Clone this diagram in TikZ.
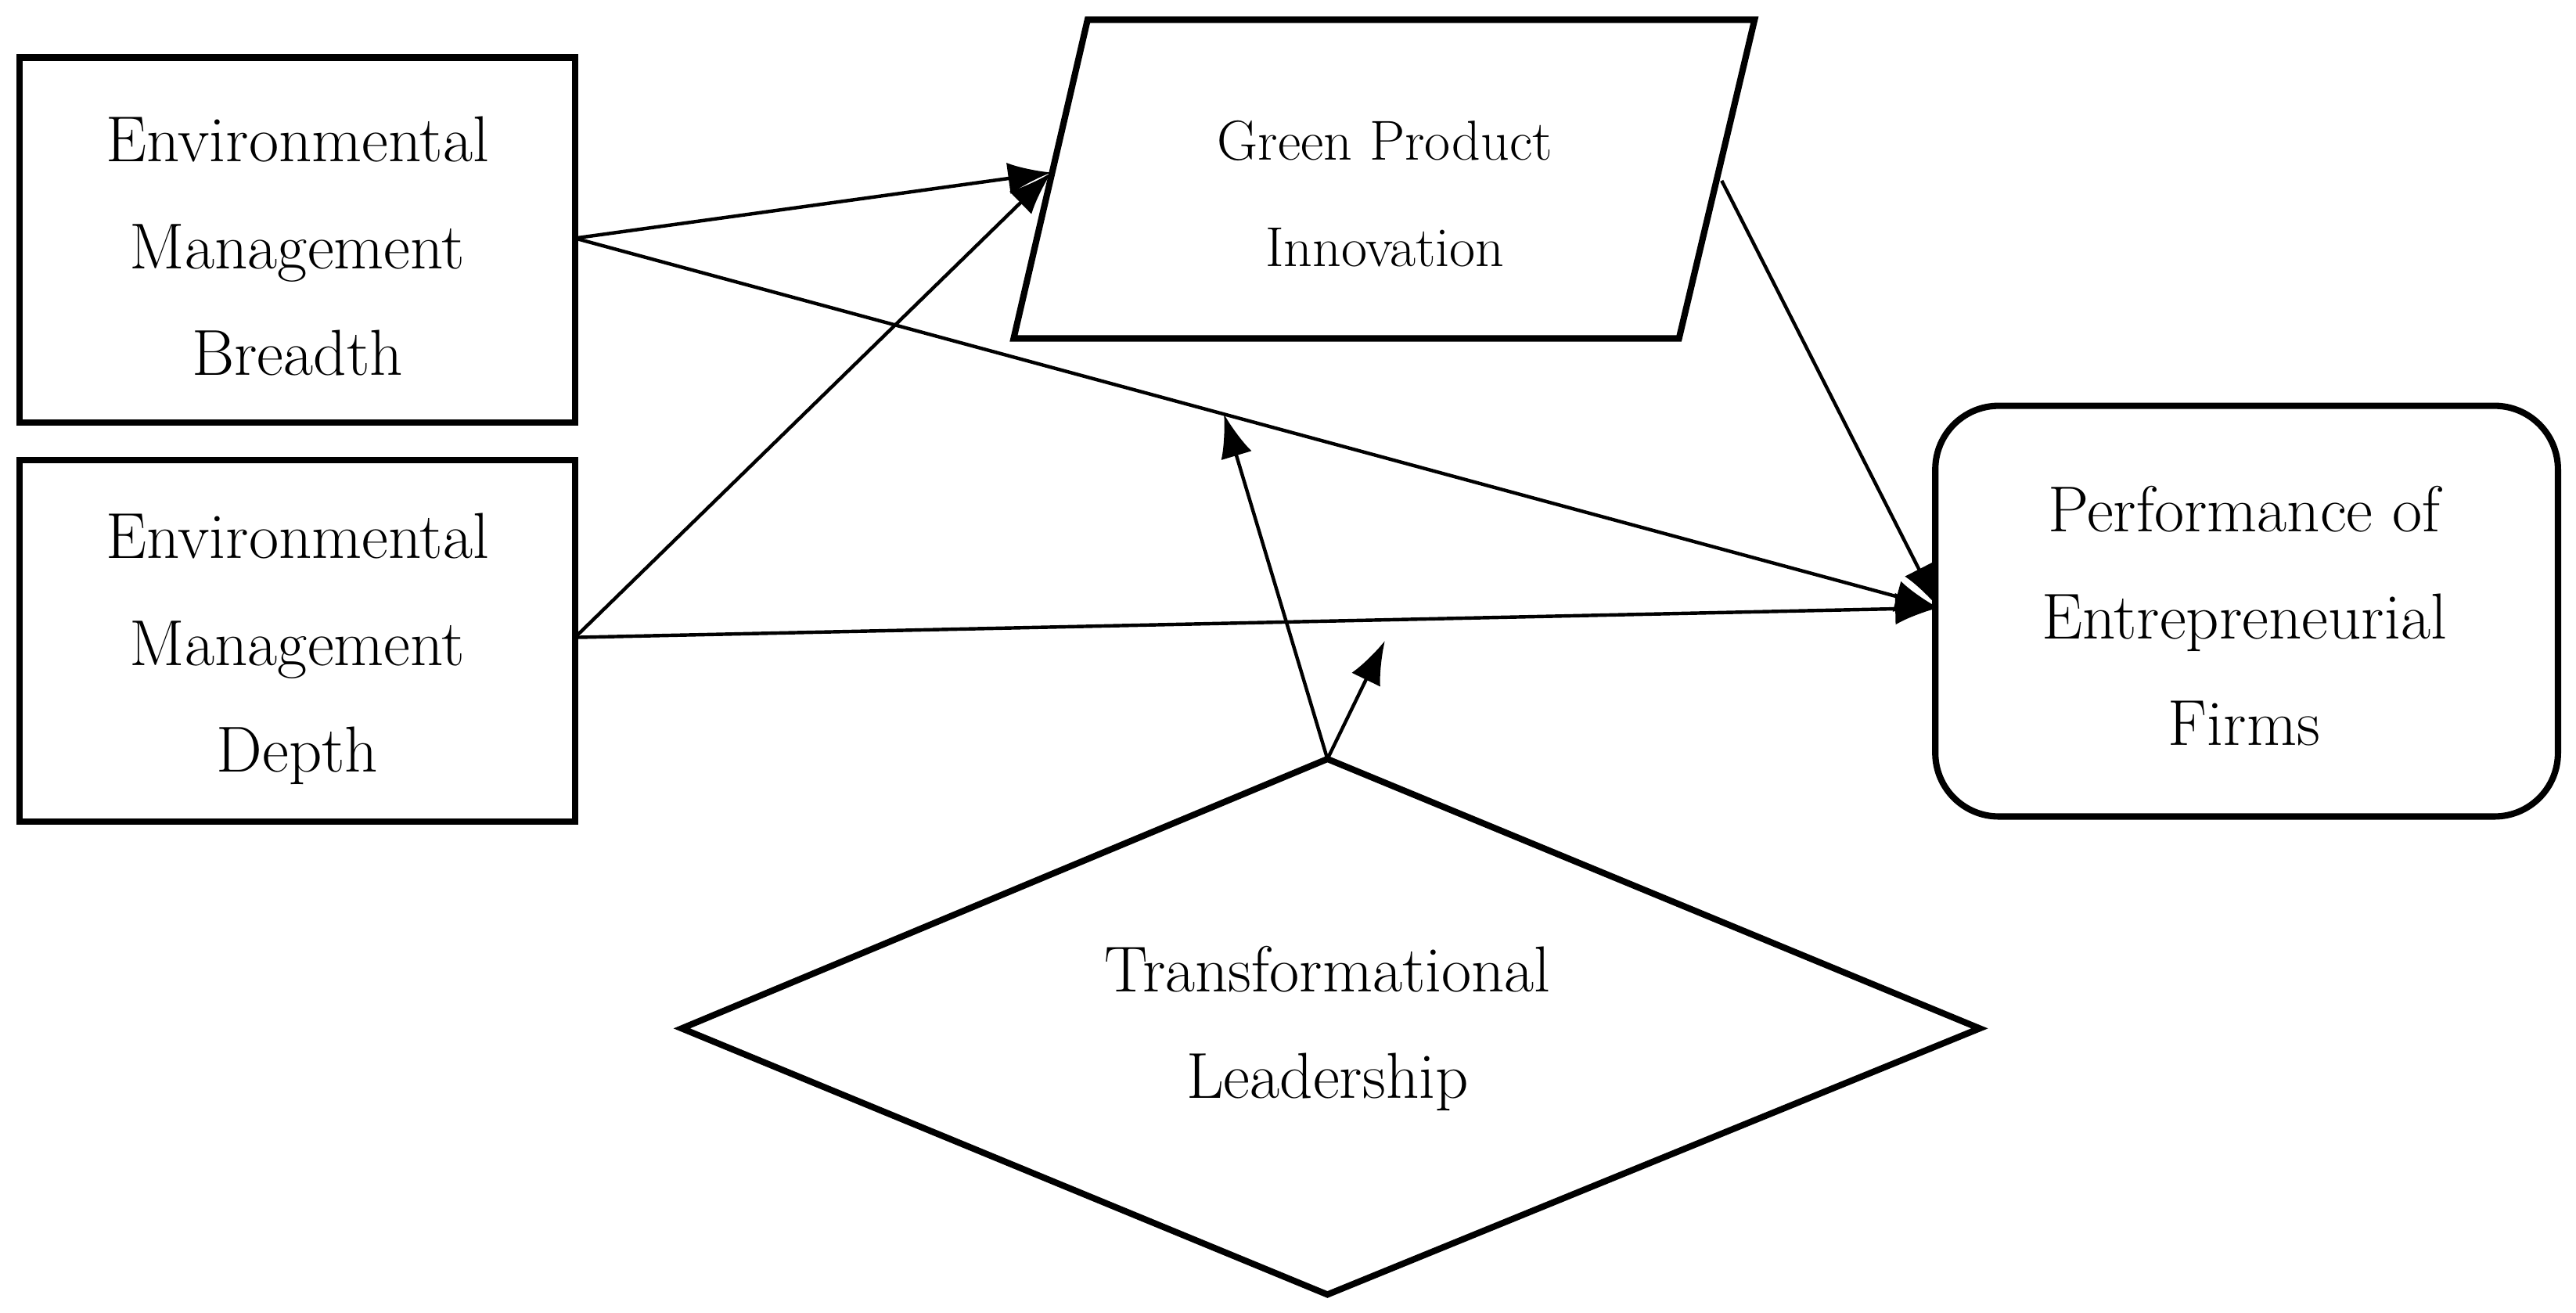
\documentclass[tikz,border=0pt]{standalone}
\usetikzlibrary{arrows.meta}
\begin{document}
\begin{tikzpicture}[x=0.02cm,y=-0.02cm,
  box/.style={draw,line width=2.2pt},
  lbl/.style={align=center,font=\fontsize{22.5}{37}\selectfont},
  conn/.style={line width=1.2pt,-{Latex[length=15pt,width=11pt]}}]
\useasboundingbox (0,0) rectangle (1568,799);
\draw[box] (12,35) rectangle (350,257);
\node[lbl] (b1) at (181,150) {Environmental\\Management\\Breadth};
\draw[box] (12,280) rectangle (350,500);
\node[lbl] (b2) at (181,395) {Environmental\\Management\\Depth};
\draw[box] (662,12) -- (1068,12) -- (1022,206) -- (617,206) -- cycle;
\node[lbl,font=\fontsize{19.5}{37}\selectfont] (g) at (843,118) {Green Product\\Innovation};
\draw[box,rounded corners=22pt] (1178,247) rectangle (1557,497);
\node[lbl] (p) at (1366,375) {Performance of\\Entrepreneurial\\Firms};
\draw[box] (415,626) -- (808,462) -- (1205,626) -- (808,788) -- cycle;
\node[lbl] (t) at (808,626) {Transformational\\Leadership};
\coordinate (b1r) at (350,145);
\coordinate (b2r) at (350,388);
\coordinate (gin) at (640,105);
\coordinate (pin) at (1180,370);
\coordinate (gout) at (1048,110);
\coordinate (ttop) at (808,462);
\coordinate (m1) at (745,252);
\coordinate (m2) at (843,390);
\draw[conn] (b1r) -- (gin);
\draw[conn] (b1r) -- (pin);
\draw[conn] (b2r) -- (gin);
\draw[conn] (b2r) -- (pin);
\draw[conn] (gout) -- (pin);
\draw[conn] (ttop) -- (m1);
\draw[conn] (ttop) -- (m2);
\end{tikzpicture}
\end{document}
